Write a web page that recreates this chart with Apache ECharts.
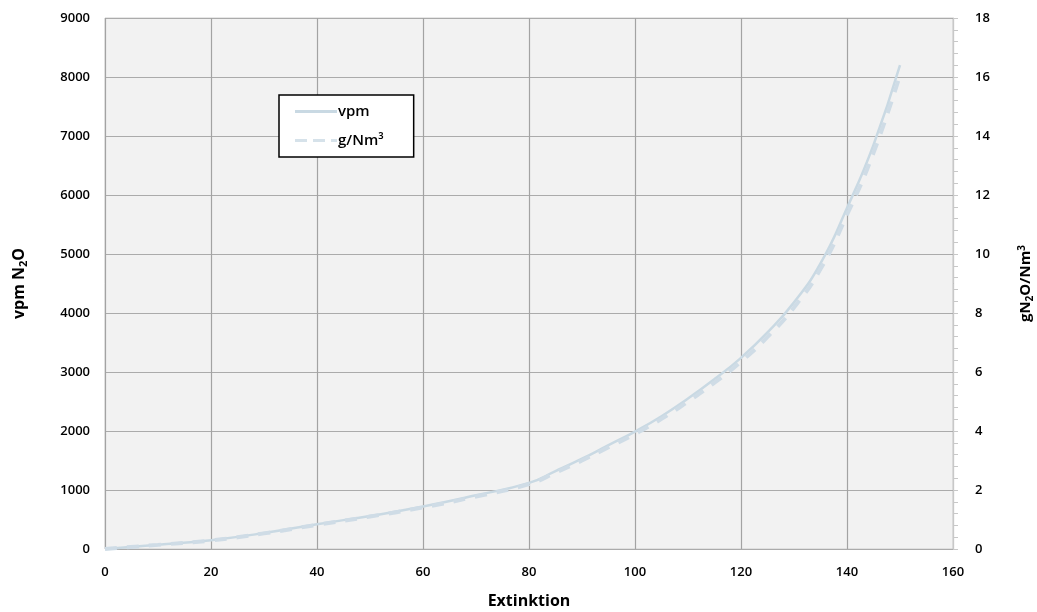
<!DOCTYPE html>
<html>
<head>
<meta charset="utf-8">
<script src="https://cdn.jsdelivr.net/npm/echarts@6/dist/echarts.min.js"></script>
<style>html,body{margin:0;padding:0;background:#fff;}#c{width:1037px;height:612px;}</style>
</head>
<body>
<div id="c"></div>
<script>
var extinction = [0, 10, 20, 30, 40, 50, 60, 70, 80, 85, 90, 95, 100, 105, 110, 115, 120, 125, 130, 135, 140, 145, 150];
var vpm = [0, 70, 150, 270, 420, 560, 720, 910, 1120, 1320, 1530, 1760, 1990, 2250, 2550, 2880, 3240, 3670, 4180, 4840, 5780, 6850, 8200];
var gNm3 = [0, 0.14, 0.29, 0.53, 0.82, 1.10, 1.41, 1.78, 2.20, 2.59, 3.00, 3.45, 3.90, 4.41, 5.00, 5.64, 6.35, 7.19, 8.19, 9.49, 11.33, 13.43, 16.07];
var xTicks = [0, 20, 40, 60, 80, 100, 120, 140, 160];

var font = 'Open Sans';
function pairs(xs, ys){ return xs.map(function(x,i){ return [x, ys[i]]; }); }

var chart = echarts.init(document.getElementById('c'), null, {renderer:'canvas'});
chart.setOption({
  animation: false,
  backgroundColor: '#ffffff',
  textStyle: {fontFamily: font},
  grid: {left: 105, right: 84, top: 18, bottom: 63, outerBoundsMode: 'none', containLabel: false,
         show: true, backgroundColor: '#f2f2f2', borderColor: '#cfcfcf', borderWidth: 1},
  legend: {
    orient: 'vertical', left: 279, top: 95, width: 134,
    backgroundColor: '#ffffff', borderColor: '#000000', borderWidth: 1.5,
    padding: [9, 30, 9, 16], itemGap: 14, itemWidth: 42, itemHeight: 14,
    textStyle: {fontFamily: font, fontSize: 15, fontWeight: 600, color: '#000', padding: [0,0,0,-4]},
    data: [{name: 'vpm', icon: 'path://M0,6 L42,6 L42,9 L0,9 Z'}, {name: 'g/Nm³', icon: 'path://M0,6 L12,6 L12,9 L0,9 Z M18,6 L30,6 L30,9 L18,9 Z M36,6 L42,6 L42,9 L36,9 Z'}]
  },
  xAxis: {
    type: 'value', min: 0, max: 160, interval: 20,
    name: 'Extinktion', nameLocation: 'middle', nameGap: 44,
    nameTextStyle: {fontFamily: font, fontSize: 16, fontWeight: 'bold', color: '#000'},
    axisLine: {show: false}, axisTick: {show: false},
    axisLabel: {fontFamily: font, fontSize: 13, fontWeight: 600, color: '#000', margin: 17,
      formatter: function(v){ return xTicks.indexOf(v) >= 0 ? String(v) : ''; }},
    splitLine: {show: true, lineStyle: {color: '#a3a3a3', width: 1.2}}
  },
  yAxis: [{
    type: 'value', min: 0, max: 9000, interval: 1000, position: 'left',
    name: 'vpm N{sub|2}O', nameLocation: 'middle', nameGap: 76, nameRotate: 90,
    nameTextStyle: {fontFamily: font, fontSize: 16, fontWeight: 'bold', color: '#000',
      rich: {sub: {fontFamily: font, fontSize: 11, fontWeight: 'bold', color: '#000', verticalAlign: 'bottom', padding: [8,0,0,0]}}},
    axisLine: {show: false}, axisTick: {show: false},
    axisLabel: {fontFamily: font, fontSize: 13, fontWeight: 600, color: '#000', margin: 15,
      formatter: function(v){ return String(v); }},
    splitLine: {show: true, lineStyle: {color: '#ababab', width: 1.2}}
  }, {
    type: 'value', min: 0, max: 18, interval: 2, position: 'right',
    name: 'gN{sub|2}O/Nm{sup|3}', nameLocation: 'middle', nameGap: 64, nameRotate: 90,
    nameTextStyle: {fontFamily: font, fontSize: 15, fontWeight: 'bold', color: '#000',
      rich: {sub: {fontFamily: font, fontSize: 10, fontWeight: 'bold', color: '#000', padding: [8,0,0,0]},
             sup: {fontFamily: font, fontSize: 10, fontWeight: 'bold', color: '#000', padding: [0,0,8,0]}}},
    axisLine: {show: true, lineStyle: {color: '#c8c8c8'}},
    axisTick: {show: true, inside: false, length: 5, lineStyle: {color: '#c8c8c8'}},
    minorTick: {show: true, splitNumber: 5, length: 5, lineStyle: {color: '#c8c8c8'}},
    axisLabel: {fontFamily: font, fontSize: 13, fontWeight: 600, color: '#000', margin: 22},
    splitLine: {show: false}
  }],
  series: [{
    name: 'vpm', type: 'line', yAxisIndex: 0, smooth: true, symbol: 'none',
    data: pairs(extinction, vpm),
    itemStyle: {color: '#c9d9e3'},
    lineStyle: {color: '#c9d9e3', width: 2.5, type: 'solid'}
  }, {
    name: 'g/Nm³', type: 'line', yAxisIndex: 1, smooth: true, symbol: 'none',
    data: pairs(extinction, gNm3),
    itemStyle: {color: '#d6e2ea'},
    lineStyle: {color: '#cfdce6', width: 4, type: [12, 10]}
  }]
});
</script>
</body>
</html>
